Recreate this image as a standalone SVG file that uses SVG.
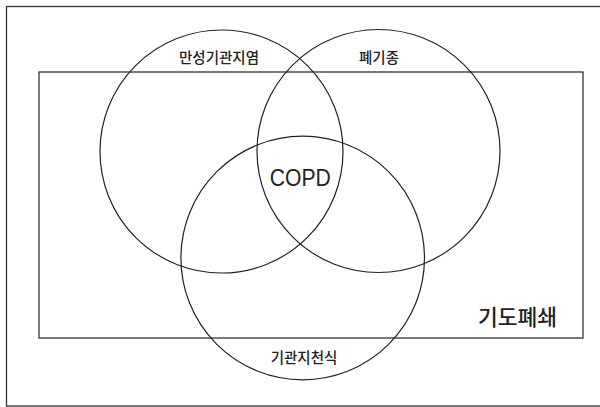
<svg xmlns="http://www.w3.org/2000/svg" width="600" height="407" viewBox="0 0 600 407">
<style>
.c{fill:none;stroke:#222;stroke-width:1.2}
.r{fill:none;stroke:#333;stroke-width:1.3}
.k{font-family:"Noto Sans CJK KR","Noto Sans",sans-serif;fill:#222;text-anchor:middle;font-weight:500}
.e{font-family:"Liberation Sans",Arial,sans-serif;fill:#222;text-anchor:middle}
</style>
<rect width="600" height="407" fill="#fff"/>
<rect x="6.5" y="6.5" width="600" height="399.5" class="r"/>
<g id="airway-obstruction">
<rect x="39" y="72" width="544" height="266" class="r"/>
<text x="517.5" y="325" class="k" font-size="21.5">기도폐쇄</text>
</g>
<g id="chronic-bronchitis">
<circle cx="221.5" cy="151.5" r="121.5" class="c"/>
<text x="219" y="63" class="k" font-size="14.5">만성기관지염</text>
</g>
<g id="emphysema">
<circle cx="378.5" cy="151" r="121.5" class="c"/>
<text x="379" y="63" class="k" font-size="14.5">폐기종</text>
</g>
<g id="asthma">
<circle cx="302.7" cy="258" r="121.8" class="c"/>
<text x="304" y="362.5" class="k" font-size="14.5">기관지천식</text>
</g>
<g id="copd">
<text x="300.3" y="186" class="e" font-size="24" textLength="61" lengthAdjust="spacingAndGlyphs">COPD</text>
</g>
<g id="connectors"></g>
</svg>
